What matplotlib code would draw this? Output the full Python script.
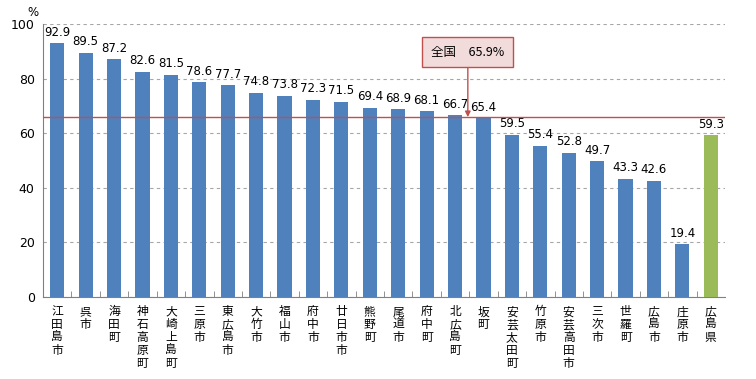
import matplotlib
matplotlib.use("Agg")
import matplotlib.pyplot as plt

plt.rcParams['font.family'] = ['Noto Sans CJK JP', 'DejaVu Sans']

categories = ["江田島市", "呉市", "海田町", "神石高原町", "大崎上島町", "三原市", "東広島市", "大竹市",
              "福山市", "府中市", "廿日市市", "熊野町", "尾道市", "府中町", "北広島町", "坂町",
              "安芸太田町", "竹原市", "安芸高田市", "三次市", "世羅町", "広島市", "庄原市", "広島県"]
values = [92.9, 89.5, 87.2, 82.6, 81.5, 78.6, 77.7, 74.8, 73.8, 72.3, 71.5, 69.4,
          68.9, 68.1, 66.7, 65.4, 59.5, 55.4, 52.8, 49.7, 43.3, 42.6, 19.4, 59.3]
national = 65.9
yticks = [0, 20, 40, 60, 80, 100]

blue = "#4f81bd"
green = "#9bbb59"
red = "#c0504d"

fig = plt.figure(figsize=(7.56, 3.79), dpi=100)
ax = fig.add_axes([43/756, 1-297/379, (725-43)/756, (297-24)/379])

n = len(categories)
colors = [blue]*(n-1) + [green]
x = list(range(n))
ax.bar(x, values, width=0.5, color=colors, zorder=3)
for xi, v in zip(x, values):
    ax.text(xi, v + 1.6, f"{v:.1f}", ha="center", va="bottom", fontsize=8.5, family=['DejaVu Sans'])

ax.set_xlim(-0.5, n - 0.5)
ax.set_ylim(0, 100)
ax.set_yticks(yticks)
ax.set_yticklabels([str(t) for t in yticks], fontsize=9, family=['DejaVu Sans'])
ax.yaxis.grid(True, linestyle=(0, (3, 3)), color="#a6a6a6", linewidth=0.8, zorder=0)
ax.tick_params(axis='y', length=0, pad=6)

ax.set_xticks([i + 0.5 for i in range(n - 1)], minor=True)
ax.set_xticks(x)
ax.set_xticklabels(["\n".join(c) for c in categories], fontsize=8.5, linespacing=1.0, va="top")
ax.tick_params(axis='x', which='major', length=0, pad=6)
ax.tick_params(axis='x', which='minor', length=4, direction='in', color="#808080")

for s in ["top", "right"]:
    ax.spines[s].set_visible(False)
for s in ["left", "bottom"]:
    ax.spines[s].set_color("#808080")

ax.axhline(national, color=red, linewidth=1, zorder=4)

ax.annotate(f"全国　{national}%", xy=(14.45, national), xytext=(14.45, 89.7),
            ha="center", va="center", fontsize=9,
            bbox=dict(boxstyle="square,pad=0.7", facecolor="#f2dcdb", edgecolor=red, linewidth=1),
            arrowprops=dict(arrowstyle="-|>", color=red, linewidth=1, mutation_scale=8, shrinkA=0, shrinkB=0),
            zorder=5)

fig.text(33/756, 1-12/379, "%", fontsize=8.5, ha="center", va="center", family=['DejaVu Sans'])

fig.savefig("out.png", dpi=100)
